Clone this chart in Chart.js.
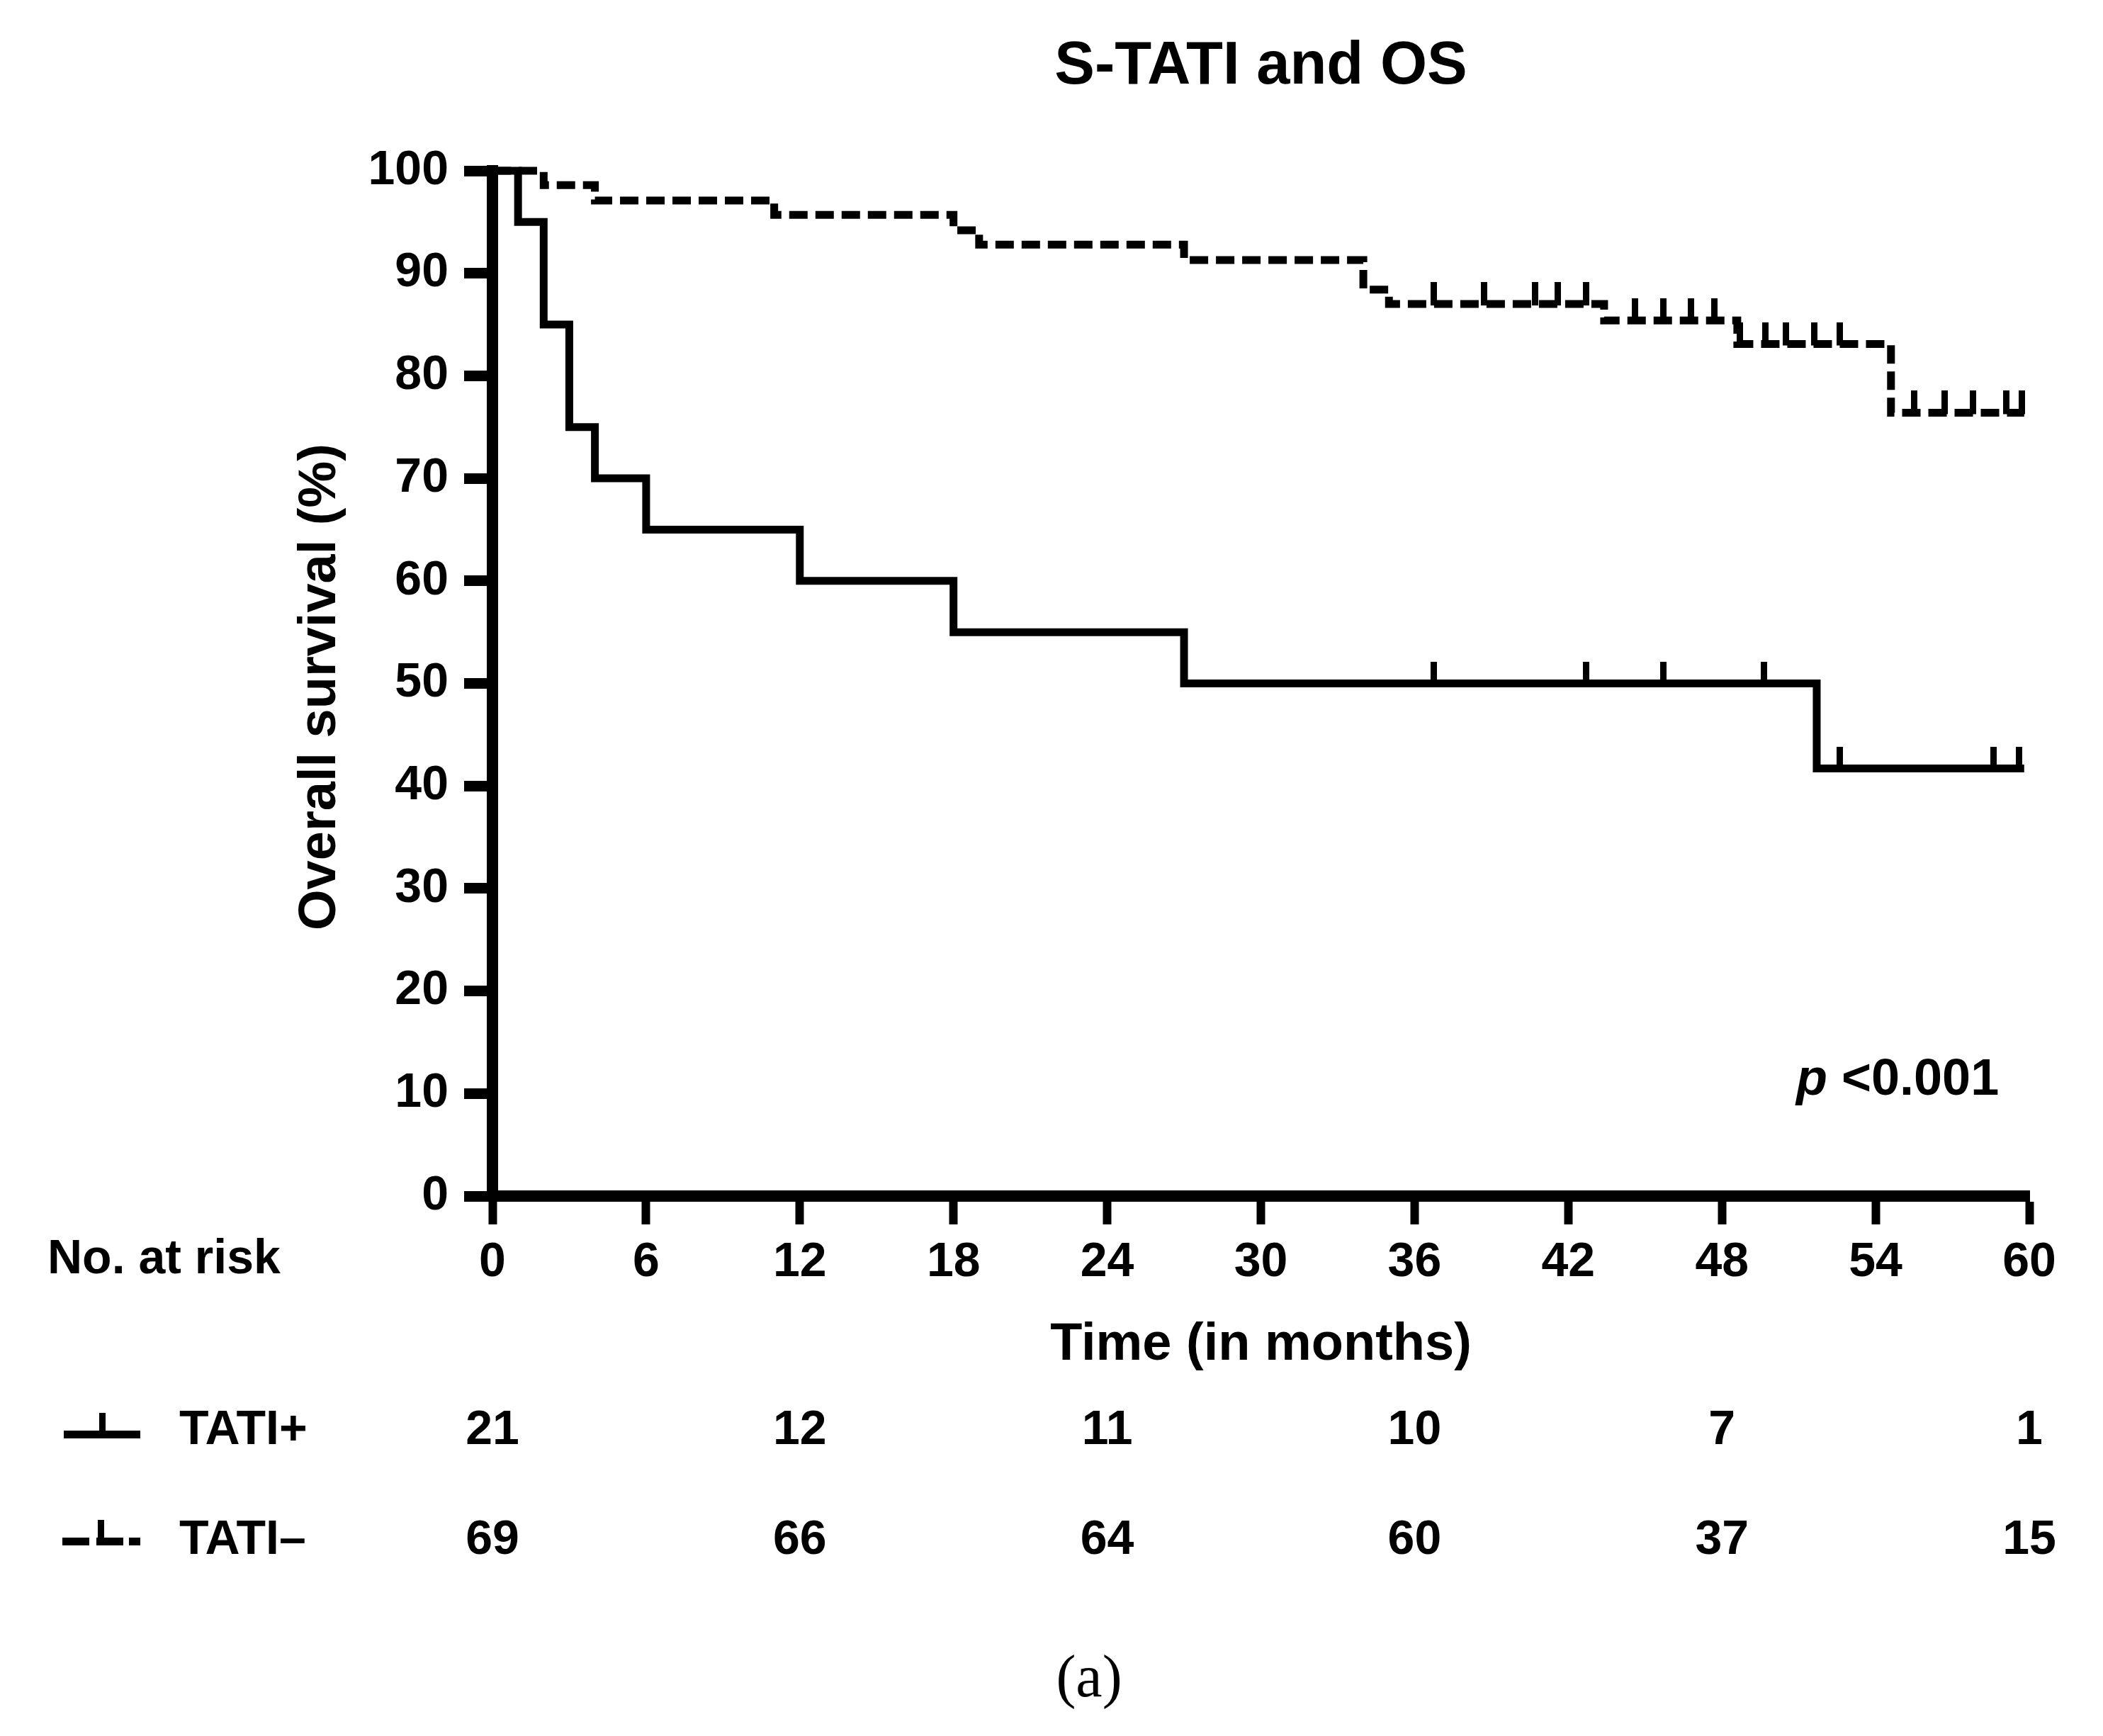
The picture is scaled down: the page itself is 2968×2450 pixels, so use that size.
<!DOCTYPE html>
<html>
<head>
<meta charset="utf-8">
<script src="https://cdn.jsdelivr.net/npm/chart.js@4.4.1/dist/chart.umd.min.js"></script>
<style>
  html, body { margin: 0; padding: 0; background: #fff; }
  canvas { display: block; }
</style>
</head>
<body>
<canvas id="km" width="2968" height="2450" style="width:2968px;height:2450px"></canvas>
<script>
// TATI+ : step times (months) and survival (%) after each step
const plusTimes = [0, 1, 2, 3, 4, 6, 12, 18, 27, 51.7, 59.8];
const plusSurv = [100, 95, 85, 75, 70, 65, 60, 55, 50, 41.7, 41.7];
const plusCensored = [36.75, 42.7, 45.7, 49.65, 52.6, 58.6, 59.6];

// TATI- : step times (months) and survival (%)
const minusTimes = [0, 2, 4, 11, 18, 19, 27, 34, 35, 43.4, 48.6, 54.6, 59.8];
const minusSurv = [100, 98.6, 97.1, 95.7, 94.2, 92.8, 91.3, 88.4, 87.0, 85.4, 83.1, 76.4, 76.4];
const minusCensored = [36.75, 38.7, 40.7, 41.6, 42.7, 44.6, 45.7, 46.8, 47.7,
                       48.7, 49.7, 50.5, 51.6, 52.6, 55.5, 56.7, 57.8, 59.1, 59.7];

const xTicks = [0, 6, 12, 18, 24, 30, 36, 42, 48, 54, 60];
const yTicks = [0, 10, 20, 30, 40, 50, 60, 70, 80, 90, 100];

// number at risk table
const riskMonths = [0, 12, 24, 36, 48, 60];
const riskPlus = [21, 12, 11, 10, 7, 1];
const riskMinus = [69, 66, 64, 60, 37, 15];

const FONT = '"Liberation Sans", Arial, sans-serif';

function curve(times, surv) {
  return times.map((t, i) => ({ x: t, y: surv[i] }));
}

// survival level of a step curve at time t
function levelAt(times, surv, t) {
  let v = surv[0];
  for (let i = 0; i < times.length; i++) {
    if (times[i] <= t) v = surv[i];
  }
  return v;
}

function censorPoints(list, times, surv) {
  return list.map(t => ({ x: t, y: levelAt(times, surv, t) }));
}

// upward tick mark used for censored observations
function tickMark() {
  const c = document.createElement('canvas');
  c.width = 9;
  c.height = 62;
  const g = c.getContext('2d');
  g.fillStyle = '#000';
  g.fillRect(0, 0, 9, 33);
  return c;
}
const mark = tickMark();

const extras = {
  id: 'extras',
  afterDraw(chart) {
    const ctx = chart.ctx;
    const xs = chart.scales.x;
    const area = chart.chartArea;
    const midX = (area.left + area.right) / 2;
    ctx.save();
    ctx.fillStyle = '#000';

    // title
    ctx.textAlign = 'center';
    ctx.textBaseline = 'alphabetic';
    ctx.font = 'bold 85px ' + FONT;
    ctx.fillText('S-TATI and OS', midX, 118);

    // axis titles
    ctx.font = 'bold 74px ' + FONT;
    ctx.fillText('Time (in months)', midX, 1919);
    ctx.save();
    ctx.translate(473, (area.top + area.bottom) / 2 + 5);
    ctx.rotate(-Math.PI / 2);
    ctx.fillText('Overall survival (%)', 0, 0);
    ctx.restore();

    // p value
    ctx.textAlign = 'left';
    ctx.font = 'italic bold 72px ' + FONT;
    ctx.fillText('p', 2535, 1545);
    const pw = ctx.measureText('p').width;
    ctx.font = 'bold 72px ' + FONT;
    ctx.fillText(' <0.001', 2535 + pw, 1545);

    // number at risk
    ctx.font = 'bold 68px ' + FONT;
    ctx.fillText('No. at risk', 67, 1797);
    ctx.fillText('TATI+', 253, 2038);
    ctx.fillText('TATI\u2013', 253, 2193);

    ctx.textAlign = 'center';
    riskMonths.forEach((m, i) => {
      const px = xs.getPixelForValue(m);
      ctx.fillText(String(riskPlus[i]), px, 2038);
      ctx.fillText(String(riskMinus[i]), px, 2193);
    });

    // legend symbols
    ctx.fillRect(90, 2019, 108, 11);
    ctx.fillRect(140, 1994, 9, 30);
    ctx.fillRect(88, 2170, 38, 11);
    ctx.fillRect(136, 2170, 38, 11);
    ctx.fillRect(138, 2145, 9, 30);
    ctx.fillRect(182, 2170, 16, 11);

    // panel label
    ctx.font = '84px "Liberation Serif", "Times New Roman", serif';
    ctx.fillText('(a)', 1537, 2394);
    ctx.restore();
  }
};

const lineBase = {
  borderColor: '#000',
  borderWidth: 11,
  stepped: true,
  pointRadius: 0,
  fill: false,
  clip: false,
  borderCapStyle: 'butt',
  borderJoinStyle: 'miter'
};

const markBase = {
  showLine: false,
  pointStyle: mark,
  pointRadius: 5,
  clip: false
};

new Chart(document.getElementById('km'), {
  type: 'line',
  data: {
    datasets: [
      Object.assign({ label: 'TATI+', data: curve(plusTimes, plusSurv) }, lineBase),
      Object.assign({ label: 'TATI-', data: curve(minusTimes, minusSurv), borderDash: [26, 11] }, lineBase),
      Object.assign({ label: 'TATI+ censored', data: censorPoints(plusCensored, plusTimes, plusSurv) }, markBase),
      Object.assign({ label: 'TATI- censored', data: censorPoints(minusCensored, minusTimes, minusSurv) }, markBase)
    ]
  },
  options: {
    responsive: false,
    devicePixelRatio: 1,
    animation: false,
    layout: { padding: { left: 0, top: 241, right: 104, bottom: 0 } },
    plugins: {
      legend: { display: false },
      tooltip: { enabled: false },
      title: { display: false }
    },
    scales: {
      x: {
        type: 'linear',
        min: 0,
        max: 60,
        afterFit: s => { s.height = 762; },
        afterBuildTicks: s => { s.ticks = xTicks.map(v => ({ value: v })); },
        ticks: {
          color: '#000',
          font: { family: FONT, size: 68, weight: 'bold' },
          padding: 13,
          maxRotation: 0,
          autoSkip: false
        },
        grid: {
          drawOnChartArea: false,
          drawTicks: true,
          tickLength: 40,
          tickWidth: 12,
          tickColor: '#000'
        },
        border: { display: true, color: '#000', width: 16 }
      },
      y: {
        type: 'linear',
        min: 0,
        max: 100,
        afterFit: s => { s.width = 695; },
        afterBuildTicks: s => { s.ticks = yTicks.map(v => ({ value: v })); },
        ticks: {
          color: '#000',
          font: { family: FONT, size: 68, weight: 'bold' },
          padding: 22,
          autoSkip: false
        },
        grid: {
          drawOnChartArea: false,
          drawTicks: true,
          tickLength: 40,
          tickWidth: 15,
          tickColor: '#000'
        },
        border: { display: true, color: '#000', width: 16 }
      }
    }
  },
  plugins: [extras]
});
</script>
</body>
</html>
